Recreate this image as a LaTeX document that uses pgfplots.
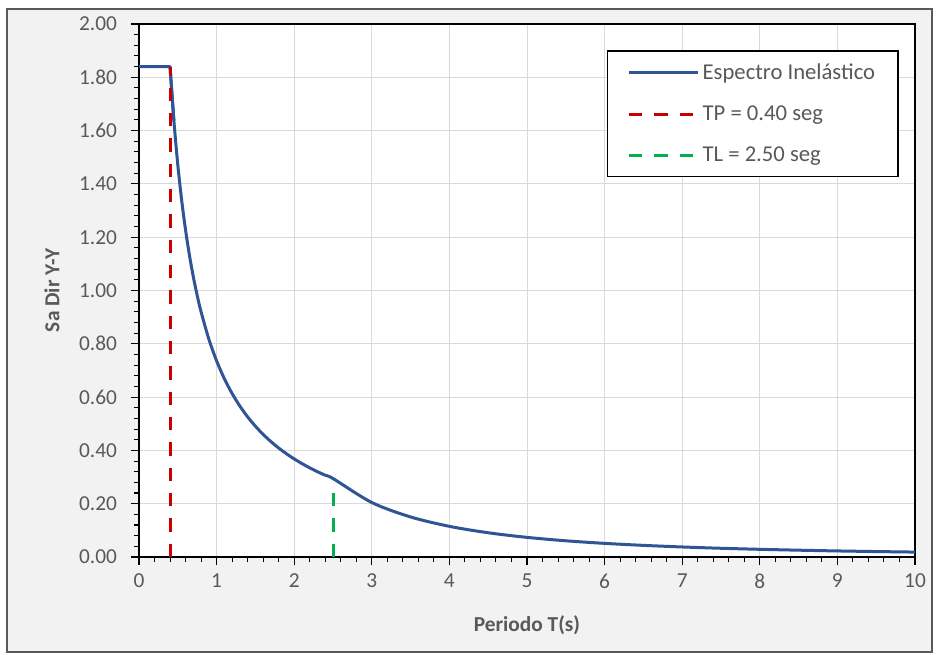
\documentclass[border=0pt]{standalone}
\usepackage{pgfplots}
\pgfplotsset{compat=1.18}
\usepackage{fontspec}
\setmainfont{Carlito}
\definecolor{bg}{HTML}{F2F2F2}
\definecolor{txt}{HTML}{595959}
\definecolor{grd}{HTML}{D9D9D9}
\definecolor{sblue}{HTML}{2F5597}
\definecolor{tpred}{HTML}{C80000}
\definecolor{tlgreen}{HTML}{00B050}

\begin{document}
\begin{tikzpicture}
% chart area
\fill[white] (0,0) rectangle (705pt,491.25pt);
\filldraw[fill=bg, draw=gray!70!black, line width=0.8pt] (5.25pt,2.25pt) rectangle (699pt,484.5pt);
\begin{axis}[
    at={(104.25pt,73.5pt)}, anchor=south west,
    scale only axis, width=582pt, height=399.75pt,
    xmin=0, xmax=10, ymin=0, ymax=2,
    xtick={0,1,2,3,4,5,6,7,8,9,10},
    ytick={0,0.2,0.4,0.6,0.8,1.0,1.2,1.4,1.6,1.8,2.0},
    minor x tick num=4, minor y tick num=4,
    tick align=outside, tick pos=left,
    major tick length=6pt, minor tick length=4pt,
    every tick/.style={black, line width=0.8pt},
    axis background/.style={fill=white},
    axis line style={black, line width=1.1pt},
    grid=major, grid style={grd, line width=0.75pt},
    tick label style={font=\fontsize{16}{19}\selectfont, text=txt},
    xticklabel style={yshift=-3pt},
    yticklabel style={xshift=-7pt, /pgf/number format/.cd, fixed, fixed zerofill, precision=2},
    /pgf/number format/assume math mode=true,
    xlabel={Periodo T(s)}, ylabel={Sa Dir Y-Y},
    label style={font=\bfseries\fontsize{16}{19}\selectfont, text=txt},
    xlabel style={at={(axis description cs:0.5,-0.1276)}, anchor=center},
    ylabel style={at={(axis description cs:-0.1121,0.5)}, anchor=center},
    legend style={at={(rel axis cs:0.603,0.951)}, anchor=north west,
        draw=black, line width=1.1pt, fill=white,
        font=\fontsize{17}{20}\selectfont, text=txt,
        row sep=14.5pt, inner xsep=15pt, inner ysep=7.5pt},
    legend cell align=left,
    legend image code/.code={\draw[#1] (0pt,0pt) -- (52pt,0pt);},
]
\addplot[sblue, line width=2.25pt, line join=round] coordinates {(0,1.84) (0.4,1.84) (0.45,1.6356)};
\addlegendentry{Espectro Inelástico}
\addplot[sblue, line width=2.25pt, smooth, tension=0.5, forget plot] coordinates {
(0.4,1.84) (0.45,1.6356) (0.5,1.472) (0.55,1.3382) (0.6,1.2267)
(0.65,1.1323) (0.7,1.0514) (0.75,0.9813) (0.8,0.92) (0.9,0.8178) (1.0,0.736)
(1.1,0.6691) (1.2,0.6133) (1.3,0.5662) (1.4,0.5257) (1.5,0.4907) (1.6,0.46)
(1.7,0.4329) (1.8,0.4089) (1.9,0.3874) (2.0,0.368) (2.1,0.3505) (2.2,0.3345)
(2.3,0.32) (2.4,0.3067) (2.5,0.2944) (3.0,0.2044) (3.5,0.1502) (4.0,0.115)
(4.5,0.0909) (5.0,0.0736) (5.5,0.0608) (6.0,0.0511) (6.5,0.0436) (7.0,0.0376)
(7.5,0.0327) (8.0,0.0288) (8.5,0.0255) (9.0,0.0227) (9.5,0.0204) (10.0,0.0184)
};
\addplot[tpred, line width=2.25pt, dash pattern=on 10pt off 9pt] coordinates {(0.4,0) (0.4,1.84)};
\addlegendentry{TP = 0.40 seg}
\addplot[tlgreen, line width=2.25pt, dash pattern=on 10pt off 9pt] coordinates {(2.5,0) (2.5,0.27)};
\addlegendentry{TL = 2.50 seg}
\end{axis}
\end{tikzpicture}
\end{document}
